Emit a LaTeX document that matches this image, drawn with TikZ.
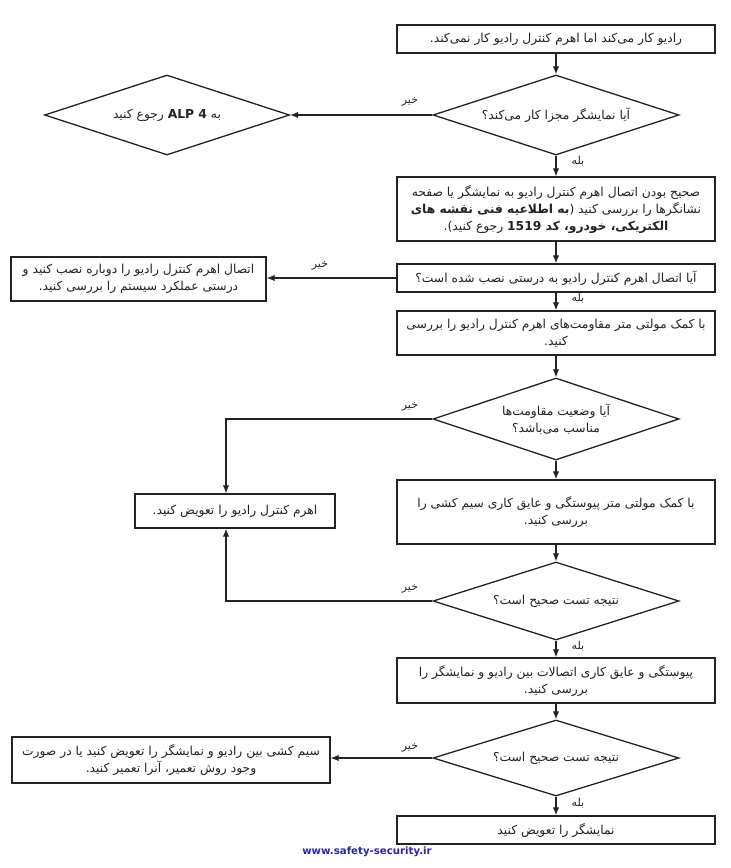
\documentclass[tikz,border=0pt]{standalone}
\usepackage{fontspec}
\usetikzlibrary{arrows.meta,shapes.geometric}
\TeXXeTstate=1
\newfontfamily\fa[Script=Arabic]{DejaVu Sans}
\newfontfamily\webfont{DejaVu Sans}
\newcommand{\rtl}[1]{\beginR #1\endR}
\definecolor{webblue}{RGB}{45,40,160}
\definecolor{ink}{RGB}{35,35,35}
\begin{document}
\begin{tikzpicture}[x=1pt,y=-1pt,
  txt/.style={font=\fa\fontsize{12.3}{17}\selectfont, text=ink},
  box/.style={txt, draw=ink, line width=1.3pt, rectangle, inner sep=2pt,
    minimum width=318pt, minimum height=#1, align=center},
  sidebox/.style={txt, draw=ink, line width=1.3pt, rectangle, inner sep=2pt,
    minimum height=#1, align=center},
  dec/.style={txt, draw=ink, line width=1.3pt, diamond, aspect=3, inner sep=0pt,
    minimum width=246pt, minimum height=#1, align=center},
  lbl/.style={font=\fa\fontsize{11}{13}\selectfont, text=ink, inner sep=1pt},
  arr/.style={draw=ink, line width=1.2pt, -{Latex[length=8pt,width=6.5pt]}}
]
\useasboundingbox (0,0) rectangle (731,868);
\fill[white] (0,0) rectangle (731,868);

\node[box=28pt] (b1) at (556,39) {\rtl{رادیو کار می‌کند اما اهرم کنترل رادیو کار نمی‌کند.}};
\node[dec=80pt] (d1) at (556,115) {\rtl{آیا نمایشگر مجزا کار می‌کند؟}};
\node[dec=80pt, minimum width=245pt] (d2) at (167,115) {\rtl{به \beginL{\bfseries ALP 4}\endL{} رجوع کنید}};
\node[box=64pt] (b3) at (556,209) {\rtl{صحیح بودن اتصال اهرم کنترل رادیو به نمایشگر یا صفحه}\\
  \rtl{نشانگرها را بررسی کنید ({\bfseries به اطلاعیه فنی نقشه های}}\\
  \rtl{{\bfseries الکتریکی، خودرو، کد \beginL 1519\endL{}} رجوع کنید).}};
\node[box=28pt] (b4) at (556,278) {\rtl{آیا اتصال اهرم کنترل رادیو به درستی نصب شده است؟}};
\node[sidebox=44pt, minimum width=255pt] (l4) at (138.5,279) {\rtl{اتصال اهرم کنترل رادیو را دوباره نصب کنید و}\\
  \rtl{درستی عملکرد سیستم را بررسی کنید.}};
\node[box=44pt] (b5) at (556,333) {\rtl{با کمک مولتی متر مقاومت‌های اهرم کنترل رادیو را بررسی}\\
  \rtl{کنید.}};
\node[dec=82pt] (d3) at (556,419) {\rtl{آیا وضعیت مقاومت‌ها}\\\rtl{مناسب می‌باشد؟}};
\node[sidebox=34pt, minimum width=200pt] (rep) at (235,511) {\rtl{اهرم کنترل رادیو را تعویض کنید.}};
\node[box=64pt] (b6) at (556,512) {\rtl{با کمک مولتی متر پیوستگی و عایق کاری سیم کشی را}\\
  \rtl{بررسی کنید.}};
\node[dec=78pt] (d4) at (556,601) {\rtl{نتیجه تست صحیح است؟}};
\node[box=45pt] (b7) at (556,680.5) {\rtl{پیوستگی و عایق کاری اتصالات بین رادیو و نمایشگر را}\\
  \rtl{بررسی کنید.}};
\node[dec=76pt] (d5) at (556,758) {\rtl{نتیجه تست صحیح است؟}};
\node[sidebox=46pt, minimum width=318pt] (l5) at (171,760) {\rtl{سیم کشی بین رادیو و نمایشگر را تعویض کنید یا در صورت}\\
  \rtl{وجود روش تعمیر، آنرا تعمیر کنید.}};
\node[box=28pt] (b8) at (556,830) {\rtl{نمایشگر را تعویض کنید}};
\node[font=\webfont\bfseries\fontsize{10.2}{12}\selectfont, text=webblue, inner sep=0pt] (web) at (367,852) {www.safety-security.ir};

% labels
\node[lbl] (n1) at (410,102) {\rtl{خیر}};
\node[lbl] (y1) at (578,161) {\rtl{بله}};
\node[lbl] (n2) at (320,266) {\rtl{خیر}};
\node[lbl] (y2) at (578,298) {\rtl{بله}};
\node[lbl] (n3) at (410,407) {\rtl{خیر}};
\node[lbl] (n4) at (410,589) {\rtl{خیر}};
\node[lbl] (y4) at (578,646) {\rtl{بله}};
\node[lbl] (n5) at (410,748) {\rtl{خیر}};
\node[lbl] (y5) at (578,803) {\rtl{بله}};

% connectors
\draw[arr] (b1) -- (d1);
\draw[arr] (d1) -- (d2);
\draw[arr] (d1) -- (b3);
\draw[arr] (b3) -- (b4);
\draw[arr] (b4.west) -- (b4.west -| l4.east);
\draw[arr] (b4) -- (b5);
\draw[arr] (b5) -- (d3);
\draw[arr] (d3.west) -| ([xshift=-9pt]rep.north);
\draw[arr] (d3) -- (b6);
\draw[arr] (b6) -- (d4);
\draw[arr] (d4.west) -| ([xshift=-9pt]rep.south);
\draw[arr] (d4) -- (b7);
\draw[arr] (b7) -- (d5);
\draw[arr] (d5.west) -- (d5.west -| l5.east);
\draw[arr] (d5) -- (b8);
\end{tikzpicture}
\end{document}
